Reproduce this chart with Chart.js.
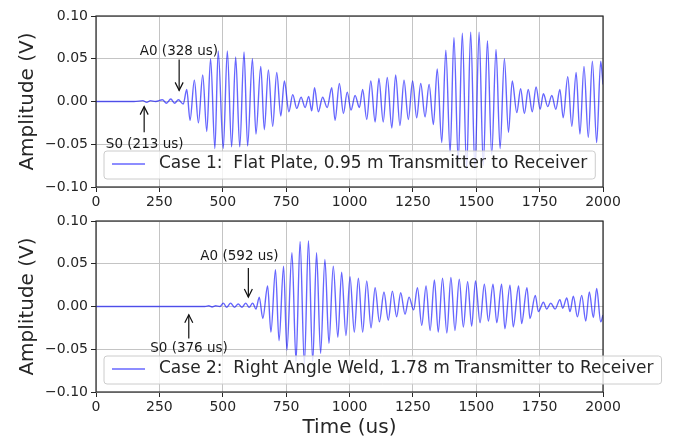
<!DOCTYPE html>
<html lang="en">
<head>
<meta charset="UTF-8">
<title>Received signals</title>
<script src="https://cdn.jsdelivr.net/npm/chart.js"></script>
<style>
    body { margin: 0; background: #fff; }
    .panel { position: absolute; left: 0; width: 678px; }
    #top { top: 0; height: 215px; }
    #bottom { top: 205px; height: 235px; }
</style>
</head>
<body>

<div class="panel" id="top"><canvas id="case1" width="678" height="215"></canvas></div>
<div class="panel" id="bottom"><canvas id="case2" width="678" height="235"></canvas></div>

<script>
// Legend labels
const seriesLabels = [
    'Case 1:  Flat Plate, 0.95 m Transmitter to Receiver',
    'Case 2:  Right Angle Weld, 1.78 m Transmitter to Receiver'
];

// Axis ticks
const timeTicks = [0, 250, 500, 750, 1000, 1250, 1500, 1750, 2000];
const ampTicks = [-0.10, -0.05, 0.00, 0.05, 0.10];

// Case 1 : peaks / troughs of the waveform (us, V)
const case1Time = [0, 150, 185, 200, 215, 235, 262, 278, 295, 310, 325, 344,
    358, 371, 388, 404, 421, 437, 452, 469, 482, 502, 518, 535, 551, 567, 584, 598,
    617, 631, 650, 664, 680, 697, 713, 729, 743, 761, 776, 792, 809, 825, 839, 851,
    862, 877, 894, 912, 930, 943, 960, 976, 991, 1006, 1022, 1039, 1052, 1068, 1084, 1101,
    1116, 1133, 1149, 1167, 1182, 1199, 1215, 1232, 1249, 1265, 1281, 1298, 1314, 1331,
    1346, 1364, 1380, 1397, 1412, 1429, 1445, 1462, 1478, 1495, 1511, 1528, 1544, 1561,
    1578, 1594, 1611, 1627, 1642, 1660, 1675, 1690, 1705, 1721, 1736, 1752, 1765, 1782,
    1798, 1814, 1830, 1843, 1861, 1877, 1894, 1909, 1925, 1942, 1958, 1975, 1991, 2000];
const case1Amp = [0, 0, 0.001, -0.001, 0.001, 0, 0.002, -0.002, 0.003, -0.002, 0.002, -0.003,
    0.014, -0.022, 0.025, -0.025, 0.031, -0.035, 0.050, -0.055, 0.059, -0.055, 0.059, -0.053, 0.052, -0.053, 0.058, -0.052,
    0.050, -0.038, 0.041, -0.033, 0.037, -0.029, 0.034, -0.017, 0.024, -0.012, 0.008, -0.008, 0.005, -0.007, 0.006, -0.011,
    0.016, -0.012, 0.005, -0.007, 0.016, -0.022, 0.021, -0.014, 0.011, -0.010, 0.007, -0.007, 0.014, -0.021, 0.024, -0.024,
    0.027, -0.024, 0.028, -0.031, 0.031, -0.028, 0.025, -0.021, 0.024, -0.019, 0.021, -0.018, 0.020, -0.027,
    0.038, -0.048, 0.060, -0.060, 0.075, -0.070, 0.080, -0.079, 0.081, -0.080, 0.081, -0.075, 0.071, -0.062,
    0.061, -0.055, 0.050, -0.036, 0.024, -0.013, 0.015, -0.014, 0.014, -0.012, 0.017, -0.009, 0.009, -0.006,
    0.007, -0.009, 0.014, -0.019, 0.029, -0.029, 0.034, -0.038, 0.041, -0.042, 0.047, -0.048, 0.047, 0.020];

// Case 2 : peaks / troughs of the waveform (us, V)
const case2Time = [0, 430, 445, 458, 472, 489, 502, 516, 531, 546, 561, 576, 591, 604, 618, 631,
    644, 658, 677, 690, 708, 722, 740, 753, 773, 789, 805, 822, 838, 855, 870, 886,
    903, 919, 936, 954, 969, 986, 1002, 1019, 1035, 1052, 1068, 1085, 1101, 1118,
    1136, 1153, 1169, 1186, 1202, 1219, 1235, 1253, 1268, 1285, 1302, 1318, 1335, 1350,
    1367, 1384, 1400, 1416, 1433, 1449, 1466, 1482, 1497, 1515, 1532, 1548, 1566, 1581,
    1600, 1613, 1633, 1646, 1667, 1679, 1700, 1712, 1733, 1745, 1765, 1778, 1794, 1811,
    1830, 1841, 1857, 1870, 1883, 1899, 1916, 1932, 1946, 1962, 1975, 1991, 2000];
const case2Amp = [0, 0, 0.0008, -0.0005, 0.0008, 0, 0.004, -0.001, 0.004, -0.001, 0.003, -0.001, 0.004, -0.001, 0.004, -0.003,
    0.011, -0.014, 0.024, -0.030, 0.043, -0.040, 0.047, -0.051, 0.063, -0.064, 0.076, -0.068, 0.077, -0.064, 0.063, -0.055,
    0.055, -0.043, 0.047, -0.036, 0.040, -0.034, 0.035, -0.030, 0.033, -0.030, 0.030, -0.025, 0.022, -0.018,
    0.017, -0.016, 0.018, -0.012, 0.016, -0.009, 0.011, -0.004, 0.022, -0.022, 0.024, -0.028, 0.031, -0.030,
    0.033, -0.031, 0.034, -0.028, 0.032, -0.024, 0.029, -0.023, 0.030, -0.019, 0.026, -0.017, 0.026, -0.019,
    0.026, -0.026, 0.025, -0.024, 0.024, -0.020, 0.022, -0.014, 0.013, -0.006, 0.005, -0.003, 0.004, -0.003,
    0.008, -0.002, 0.010, -0.006, 0.012, -0.012, 0.013, -0.017, 0.017, -0.013, 0.021, -0.018, -0.010];

// Arrival annotations
const case1Notes = ['A0 (328 us)', 'S0 (213 us)'];
const case2Notes = ['A0 (592 us)', 'S0 (376 us)'];

const FONT = '"DejaVu Sans", "Liberation Sans", sans-serif';
const LINE = 'rgba(0, 0, 255, 0.6)';

function toPoints(xs, ys) {
    return xs.map((t, i) => ({ x: t, y: ys[i] }));
}

function drawArrow(ctx, x, yFrom, yTo) {
    const dir = Math.sign(yTo - yFrom);
    ctx.beginPath();
    ctx.moveTo(x, yFrom);
    ctx.lineTo(x, yTo);
    ctx.stroke();
    ctx.beginPath();
    ctx.moveTo(x - 4, yTo - dir * 8);
    ctx.lineTo(x, yTo);
    ctx.lineTo(x + 4, yTo - dir * 8);
    ctx.stroke();
}

// frame, legend box and arrival notes
const overlay = {
    id: 'overlay',
    afterDatasetsDraw(chart, args, opts) {
        const { ctx, chartArea: a, scales } = chart;
        const x = scales.x, y = scales.y;
        ctx.save();

        ctx.strokeStyle = '#262626';
        ctx.lineWidth = 1.2;
        ctx.strokeRect(a.left, a.top, a.right - a.left, a.bottom - a.top);

        // legend
        ctx.font = '17px ' + FONT;
        const tw = ctx.measureText(opts.label).width;
        const bx = a.left + 8, by = a.bottom - 36, bh = 28, bw = tw + 63;
        ctx.beginPath();
        ctx.roundRect(bx, by, bw, bh, 3);
        ctx.fillStyle = 'rgba(255,255,255,0.8)';
        ctx.fill();
        ctx.strokeStyle = '#cccccc';
        ctx.lineWidth = 1;
        ctx.stroke();
        ctx.strokeStyle = LINE;
        ctx.lineWidth = 1.4;
        ctx.beginPath();
        ctx.moveTo(bx + 8, by + 13);
        ctx.lineTo(bx + 41, by + 13);
        ctx.stroke();
        ctx.fillStyle = '#262626';
        ctx.textBaseline = 'middle';
        ctx.fillText(opts.label, bx + 55, by + 13);

        // notes
        ctx.font = '13.5px ' + FONT;
        ctx.textAlign = 'center';
        ctx.strokeStyle = '#111';
        ctx.lineWidth = 1.2;
        opts.notes.forEach(n => {
            ctx.fillStyle = '#1a1a1a';
            ctx.fillText(n.text, x.getPixelForValue(n.tx), y.getPixelForValue(n.ty));
            drawArrow(ctx, x.getPixelForValue(n.ax),
                y.getPixelForValue(n.from), y.getPixelForValue(n.to));
        });
        ctx.restore();
    }
};

function makeChart(id, times, amps, label, notes, xHeight, showTitle) {
    return new Chart(document.getElementById(id), {
        type: 'line',
        data: {
            datasets: [{
                label: label,
                data: toPoints(times, amps),
                borderColor: LINE,
                borderWidth: 1.4,
                pointRadius: 0,
                cubicInterpolationMode: 'monotone',
                fill: false
            }]
        },
        options: {
            responsive: false,
            animation: false,
            layout: { padding: { top: 16, right: 75, left: 0, bottom: 0 } },
            scales: {
                x: {
                    type: 'linear',
                    min: 0,
                    max: 2000,
                    afterBuildTicks: s => { s.ticks = timeTicks.map(v => ({ value: v })); },
                    afterFit: s => { s.height = xHeight; },
                    ticks: {
                        maxRotation: 0,
                        padding: 2,
                        color: '#262626',
                        font: { family: FONT, size: 14 },
                        callback: v => String(v)
                    },
                    grid: { color: '#c4c4c4', lineWidth: 1, tickColor: '#262626', tickLength: 5 },
                    border: { display: false },
                    title: {
                        display: showTitle,
                        text: 'Time (us)',
                        color: '#262626',
                        font: { family: FONT, size: 20 },
                        padding: { top: 0, bottom: 0 }
                    }
                },
                y: {
                    min: -0.1,
                    max: 0.1,
                    afterBuildTicks: s => { s.ticks = ampTicks.map(v => ({ value: v })); },
                    afterFit: s => { s.width = 96; },
                    ticks: {
                        padding: 3,
                        color: '#262626',
                        font: { family: FONT, size: 14 },
                        callback: v => Math.abs(v) < 1e-9 ? '0.00' : (v < 0 ? '\u2212' : '') + Math.abs(v).toFixed(2)
                    },
                    grid: { color: '#c4c4c4', lineWidth: 1, tickColor: '#262626', tickLength: 5 },
                    border: { display: false },
                    title: {
                        display: true,
                        text: 'Amplitude (V)',
                        color: '#262626',
                        font: { family: FONT, size: 20 },
                        padding: { top: 16, bottom: 0 }
                    }
                }
            },
            plugins: {
                legend: { display: false },
                tooltip: { enabled: false },
                overlay: { label: label, notes: notes }
            }
        },
        plugins: [overlay]
    });
}

makeChart('case1', case1Time, case1Amp, seriesLabels[0], [
    { text: case1Notes[0], tx: 327, ty: 0.0585, ax: 328, from: 0.049, to: 0.013 },
    { text: case1Notes[1], tx: 192, ty: -0.050, ax: 190, from: -0.036, to: -0.006 }
], 28, false);

makeChart('case2', case2Time, case2Amp, seriesLabels[1], [
    { text: case2Notes[0], tx: 566, ty: 0.058, ax: 601, from: 0.045, to: 0.011 },
    { text: case2Notes[1], tx: 367, ty: -0.049, ax: 366, from: -0.0375, to: -0.0097 }
], 48, true);
</script>
</body>
</html>
